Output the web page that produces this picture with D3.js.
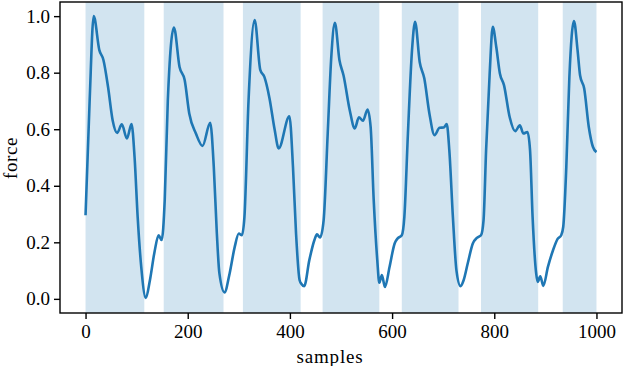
<!DOCTYPE html>
<html>
<head>
<meta charset="utf-8">
<script src="https://cdn.jsdelivr.net/npm/d3@7"></script>
<style>
  body { margin: 0; background: #fff; }
  .container text { font-family: 'Liberation Serif', 'Times New Roman', serif; fill: #000; }
</style>
</head>
<body>
<div class="container"></div>
<script>
// sample index of each read point
let samples = [
  0, 8, 16, 27, 35, 44, 53, 62, 71, 81, 90, 96, 102, 109, 118, 126, 135, 143, 149,
  155, 161, 173, 184, 194, 203, 216, 229, 244, 251, 257, 262, 272, 282, 292, 300, 306,
  311, 319, 331, 342, 350, 360, 370, 378, 399, 406, 412, 419, 423, 428, 438, 448, 453, 459,
  466, 474, 481, 488, 497, 505, 517, 527, 535, 543, 552, 558, 564, 571, 575, 580, 586,
  595, 605, 611, 619, 624, 631, 639, 645, 654, 663, 673, 683, 693, 701, 707, 712, 719,
  726, 734, 740, 748, 758, 766, 774, 779, 784, 791, 797, 804, 811, 819, 830, 841, 850,
  857, 865, 870, 875, 882, 885, 890, 896, 905, 915, 924, 931, 935, 941, 947, 956, 963,
  968, 976, 985, 993, 1000
];

// normalised force at those samples
let force = [
  0.296, 0.70, 1.0, 0.88, 0.845, 0.75, 0.632, 0.587, 0.617, 0.567, 0.618, 0.50, 0.29, 0.113, 0.003, 0.066, 0.166, 0.225, 0.208,
  0.35, 0.70, 0.96, 0.82, 0.774, 0.656, 0.585, 0.541, 0.623, 0.467, 0.231, 0.09, 0.023, 0.09, 0.184, 0.231, 0.225,
  0.29, 0.70, 0.986, 0.81, 0.785, 0.71, 0.60, 0.532, 0.646, 0.467, 0.231, 0.066, 0.052, 0.045, 0.137, 0.208, 0.228, 0.217,
  0.278, 0.585, 0.856, 0.976, 0.844, 0.79, 0.668, 0.603, 0.642, 0.63, 0.67, 0.608, 0.35, 0.137, 0.057, 0.084, 0.042,
  0.113, 0.196, 0.214, 0.225, 0.29, 0.585, 0.88, 0.98, 0.838, 0.78, 0.656, 0.579, 0.605, 0.606, 0.618, 0.526, 0.29,
  0.10, 0.045, 0.066, 0.125, 0.196, 0.216, 0.225, 0.278, 0.526, 0.797, 0.962, 0.89, 0.797, 0.756, 0.644, 0.593, 0.614,
  0.585, 0.59, 0.526, 0.29, 0.09, 0.06, 0.08, 0.046, 0.113, 0.172, 0.212, 0.225, 0.255, 0.467, 0.785, 0.983, 0.88,
  0.79, 0.744, 0.608, 0.538, 0.519
];

// shaded intervals (start, end in samples)
let spanStart = [0, 153, 308, 464, 619, 774, 934];
let spanEnd = [115, 270, 421, 575, 730, 886, 1000];

let xTicks = [0, 200, 400, 600, 800, 1000];
let yTicks = [0, 0.2, 0.4, 0.6, 0.8, 1.0];

let margin = { top: 2, right: 2, bottom: 53, left: 60 };
let width = 624 - margin.left - margin.right;
let height = 366 - margin.top - margin.bottom;

let svg = d3
  .select('.container')
  .append('svg')
  .attr('width', 624)
  .attr('height', 366)
  .append('g')
  .attr('transform', 'translate(' + margin.left + ',' + margin.top + ')');

let x = d3.scaleLinear().domain([-50, 1050]).range([0, width]);
let y = d3.scaleLinear().domain([-0.05, 1.05]).range([height, 0]);

let data = samples.map((s, i) => ({ s: s, f: force[i] }));

// stance spans
svg
  .append('g')
  .selectAll('rect')
  .data(spanStart)
  .enter()
  .append('rect')
  .attr('x', (d) => x(d))
  .attr('y', 0)
  .attr('width', (d, i) => x(spanEnd[i]) - x(d))
  .attr('height', height)
  .attr('fill', '#1f77b4')
  .attr('fill-opacity', 0.2);

let line = d3
  .line()
  .x((d) => x(d.s))
  .y((d) => y(d.f))
  .curve(d3.curveMonotoneX);

svg
  .append('path')
  .datum(data)
  .attr('d', line)
  .attr('fill', 'none')
  .attr('stroke', '#1f77b4')
  .attr('stroke-width', 2.6)
  .attr('stroke-linejoin', 'round');

// frame
svg
  .append('rect')
  .attr('width', width)
  .attr('height', height)
  .attr('fill', 'none')
  .attr('stroke', '#000')
  .attr('stroke-width', 1.4);

let xAxis = svg
  .append('g')
  .attr('transform', 'translate(0,' + height + ')')
  .call(d3.axisBottom(x).tickValues(xTicks).tickSize(6).tickSizeOuter(0).tickFormat(d3.format('d')));

xAxis.select('.domain').remove();
xAxis.selectAll('line').attr('stroke-width', 1.4);
xAxis
  .selectAll('text')
  .attr('y', 25)
  .attr('dy', null)
  .attr('font-family', null)
  .style('font-size', '19px');

let yAxis = svg
  .append('g')
  .call(d3.axisLeft(y).tickValues(yTicks).tickSize(6).tickSizeOuter(0).tickFormat(d3.format('.1f')));

yAxis.select('.domain').remove();
yAxis.selectAll('line').attr('stroke-width', 1.4);
yAxis
  .selectAll('text')
  .attr('x', -10)
  .attr('font-family', null)
  .style('font-size', '19px');

svg
  .append('text')
  .attr('x', 270)
  .attr('y', 361)
  .attr('text-anchor', 'middle')
  .style('font-size', '19px')
  .style('letter-spacing', '0.8px')
  .text('samples');

svg
  .append('text')
  .attr('transform', 'translate(' + (17 - margin.left) + ',' + (158 - margin.top) + ') rotate(-90)')
  .attr('text-anchor', 'middle')
  .style('font-size', '19px')
  .style('letter-spacing', '0.6px')
  .text('force');
</script>
</body>
</html>
